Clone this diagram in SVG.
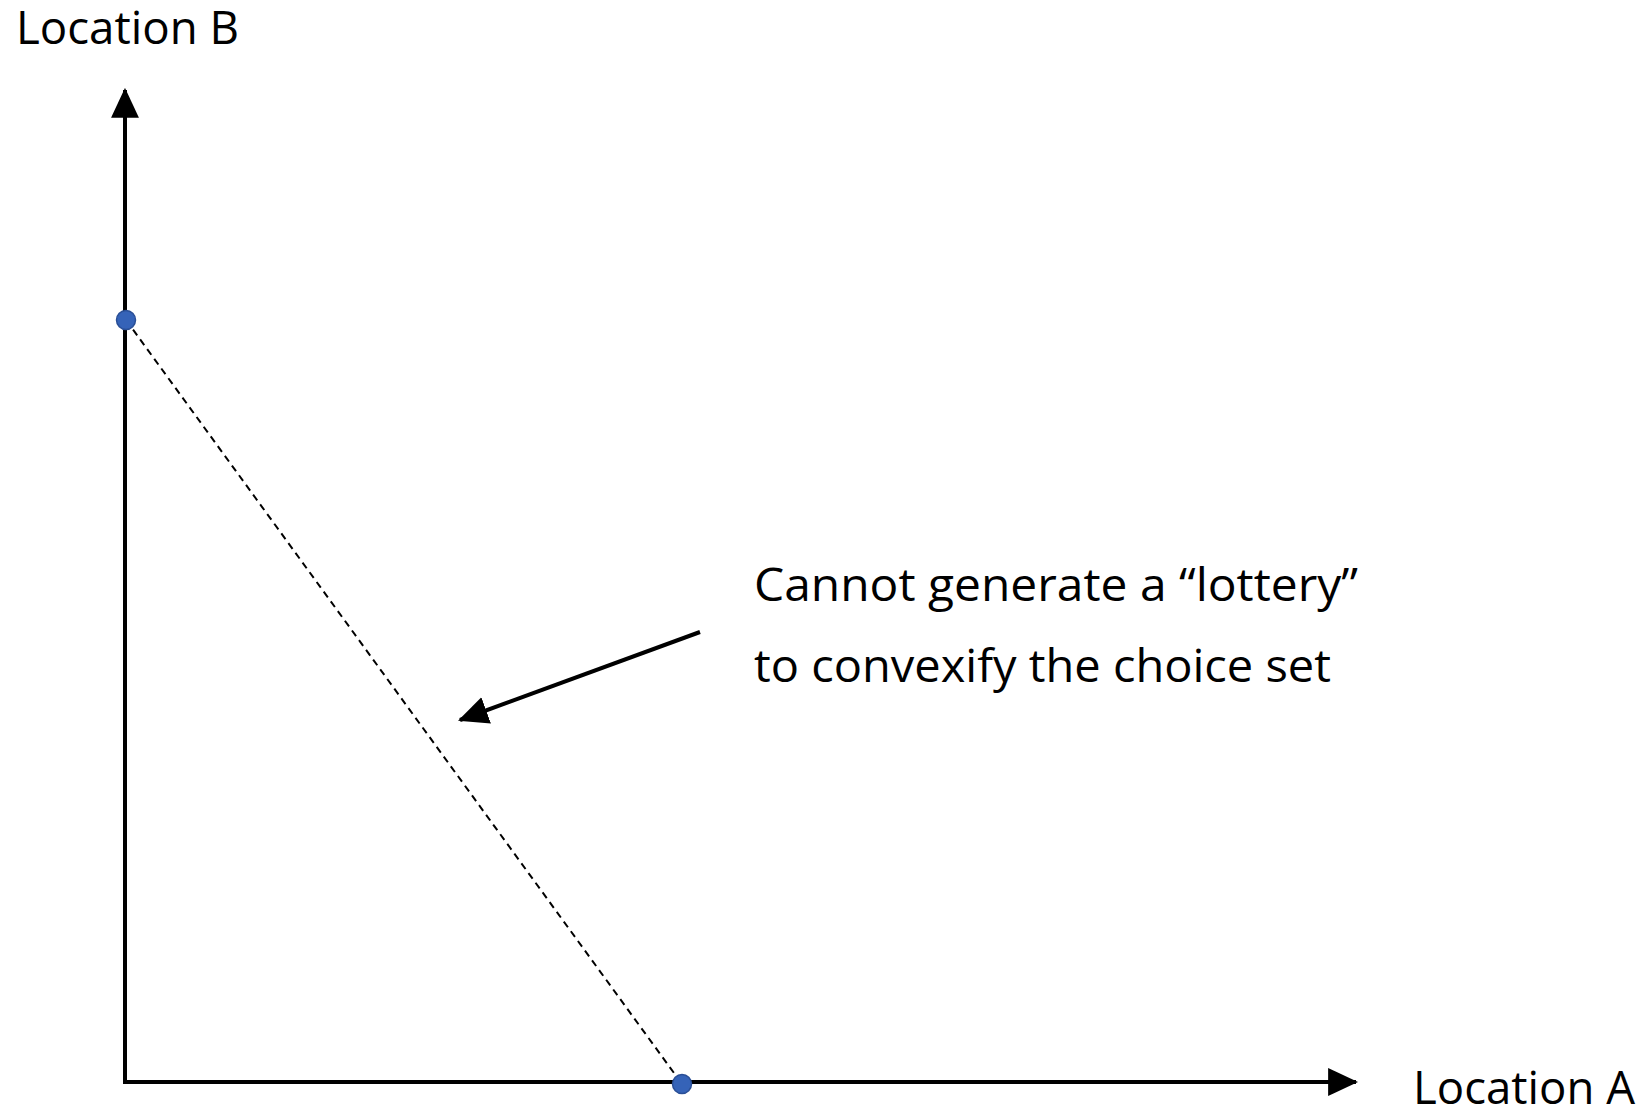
<svg xmlns="http://www.w3.org/2000/svg" width="1652" height="1108" viewBox="0 0 1652 1108">
<style>
.lbl{font-family:"Open Sans","Noto Sans","Liberation Sans",sans-serif;font-size:46px;fill:#000}
.axis{stroke:#000;stroke-width:4;fill:none}
.pt{fill:#3563b8;stroke:#2a4f96;stroke-width:1.5}
</style>
<defs>
<marker id="ah" markerUnits="userSpaceOnUse" markerWidth="30" markerHeight="30" viewBox="0 0 28 26" refX="26" refY="13" orient="auto">
<polygon points="0,0 28,13 0,26" fill="#000"/>
</marker>
</defs>
<rect width="1652" height="1108" fill="#fff"/>
<g id="connectors">
<line id="y-axis" class="axis" x1="125" y1="1084" x2="125" y2="90" marker-end="url(#ah)"/>
<line id="x-axis" class="axis" x1="123" y1="1082" x2="1356" y2="1082" marker-end="url(#ah)"/>
<line id="dash" x1="126" y1="320" x2="682" y2="1084" stroke="#000" stroke-width="2" stroke-dasharray="7,5"/>
<line id="pointer" x1="700" y1="632" x2="460" y2="720" stroke="#000" stroke-width="4" marker-end="url(#ah)"/>
</g>
<g id="pointB"><circle class="pt" cx="126" cy="320" r="9.5"/></g>
<g id="pointA"><circle class="pt" cx="682" cy="1084" r="9.5"/></g>
<g id="labelB"><text class="lbl" x="16" y="44" textLength="223" lengthAdjust="spacingAndGlyphs">Location B</text></g>
<g id="labelA"><text class="lbl" x="1413" y="1104" textLength="222" lengthAdjust="spacingAndGlyphs">Location A</text></g>
<g id="note">
<text class="lbl" x="754" y="601" textLength="604" lengthAdjust="spacingAndGlyphs">Cannot generate a “lottery”</text>
<text class="lbl" x="754" y="682" textLength="577" lengthAdjust="spacingAndGlyphs">to convexify the choice set</text>
</g>
</svg>
